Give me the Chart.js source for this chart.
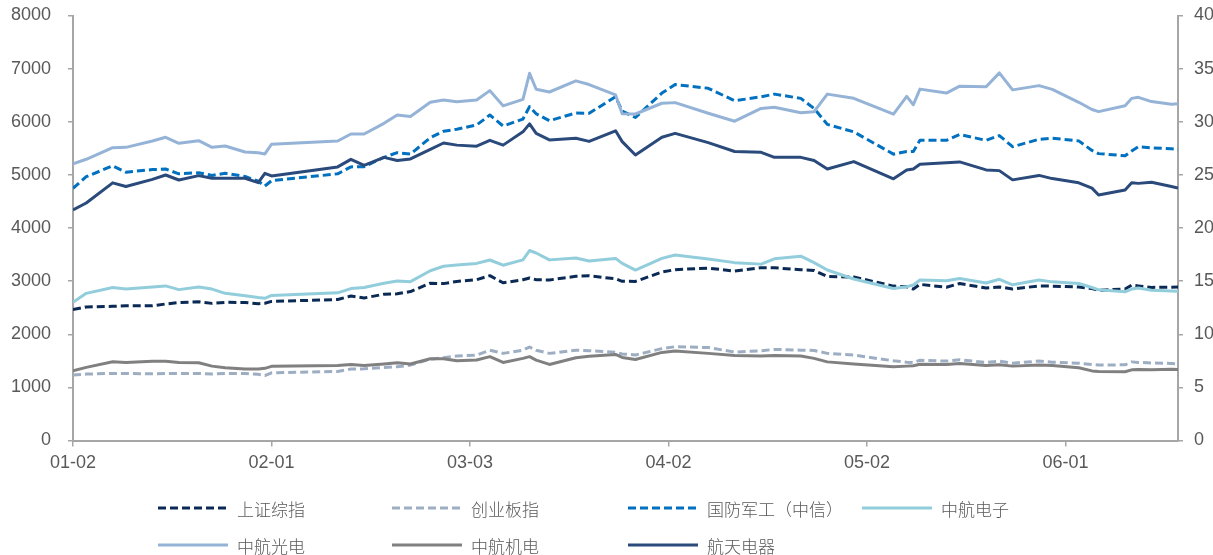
<!DOCTYPE html>
<html>
<head>
<meta charset="utf-8">
<script src="https://cdn.jsdelivr.net/npm/chart.js@4.4.1/dist/chart.umd.min.js"></script>
<style>
  html, body { margin: 0; padding: 0; background: #ffffff; }
  #wrap { position: relative; width: 1213px; height: 555px; overflow: hidden; }
  #c { position: absolute; left: 0; top: 0; }
  .lg { position: absolute; display: flex; align-items: center; font-family: "Noto Sans CJK SC", "Noto Sans", sans-serif; font-size: 17px; font-weight: 300; color: #595959; white-space: nowrap; }
  .lg svg { margin-right: 9px; }
</style>
</head>
<body>
<div id="wrap">
  <canvas id="c" width="1213" height="555"></canvas>
  <div id="legend"></div>
</div>
<script>
// ---- data (2019 trading days, MM-DD) ----
const dates = ['01-02','01-04','01-08','01-10','01-14','01-16','01-18','01-21','01-23','01-25','01-28','01-30','01-31',
'02-01','02-11','02-13','02-15','02-18','02-20','02-22','02-25','02-27',
'03-01','03-04','03-06','03-08','03-11','03-12','03-13','03-15','03-19','03-21','03-25','03-26','03-28',
'04-01','04-03','04-08','04-12','04-16','04-18','04-22','04-24','04-26','04-30',
'05-06','05-08','05-09','05-10','05-14','05-16','05-20','05-22','05-24','05-28','05-30',
'06-03','06-05','06-06','06-10','06-11','06-12','06-14','06-17','06-18'];

const xTickLabels = ['01-02','02-01','03-03','04-02','05-02','06-01'];

// left axis (index points)
const shIndex = [2465,2514,2526,2535,2535,2570,2596,2610,2581,2601,2597,2575,2584,
2618,2653,2721,2682,2754,2761,2804,2961,2953,
2994,3027,3103,2969,3026,3060,3027,3022,3090,3101,3043,2997,2995,
3170,3216,3245,3189,3254,3251,3215,3201,3086,3078,
2906,2893,2850,2939,2884,2955,2871,2891,2852,2909,2905,
2890,2861,2827,2852,2925,2909,2882,2887,2890];

const cyIndex = [1231,1250,1263,1263,1255,1263,1263,1263,1250,1263,1260,1245,1222,
1275,1300,1344,1350,1375,1388,1420,1530,1558,
1589,1608,1700,1640,1700,1760,1700,1640,1700,1690,1660,1630,1610,
1730,1765,1750,1665,1690,1715,1700,1695,1640,1608,
1500,1475,1470,1510,1495,1520,1470,1495,1455,1495,1475,
1455,1430,1420,1425,1480,1470,1460,1450,1440];

const gfIndex = [4746,4966,5170,5050,5100,5110,5020,5040,4990,5030,4970,4880,4790,
4890,5020,5150,5155,5330,5418,5390,5700,5820,
5860,5939,6127,5920,6050,6284,6150,6020,6165,6160,6470,6200,6080,
6540,6700,6630,6395,6470,6520,6440,6250,5950,5810,
5390,5440,5440,5650,5650,5760,5650,5740,5530,5670,5690,
5640,5460,5400,5360,5450,5530,5510,5490,5480];

// right axis (stock prices, yuan)
const dzPrice = [13.00,13.85,14.40,14.25,14.45,14.55,14.20,14.45,14.25,13.85,13.63,13.45,13.38,
13.65,13.90,14.30,14.40,14.80,15.01,14.95,15.98,16.40,
16.52,16.67,16.99,16.50,17.00,17.88,17.65,17.00,17.17,16.89,17.14,16.67,16.04,
17.14,17.46,17.08,16.74,16.60,17.10,17.35,16.74,16.05,15.20,
14.30,14.48,14.63,15.10,15.04,15.25,14.83,15.17,14.65,15.10,14.93,
14.78,14.40,14.18,14.00,14.25,14.35,14.15,14.08,14.05];

const gdPrice = [26.03,26.47,27.56,27.59,28.19,28.54,27.97,28.22,27.59,27.72,27.15,27.09,26.97,
27.88,28.19,28.85,28.85,29.85,30.64,30.50,31.83,32.05,
31.89,32.05,32.93,31.50,32.10,34.56,33.06,32.80,33.85,33.50,32.52,30.75,30.73,
31.74,31.80,30.80,30.05,31.25,31.36,30.85,30.95,32.60,32.21,
30.72,32.39,31.60,33.07,32.70,33.35,33.30,34.60,33.00,33.40,33.05,
31.83,31.15,30.95,31.50,32.20,32.30,31.90,31.65,31.70];

const jdPrice = [6.57,6.88,7.41,7.35,7.45,7.45,7.35,7.32,7.00,6.85,6.72,6.72,6.79,
6.98,7.05,7.16,7.05,7.20,7.32,7.20,7.70,7.70,
7.50,7.57,7.89,7.35,7.73,7.89,7.57,7.16,7.79,7.92,8.10,7.82,7.63,
8.29,8.42,8.20,8.00,7.95,8.00,7.95,7.73,7.40,7.20,
6.95,7.00,7.03,7.18,7.15,7.25,7.05,7.13,7.00,7.10,7.05,
6.85,6.55,6.50,6.47,6.65,6.68,6.65,6.70,6.69];

const htPrice = [21.69,22.35,24.25,23.90,24.58,24.99,24.52,24.93,24.68,24.68,24.68,24.27,25.15,
24.90,25.75,26.46,25.90,26.65,26.35,26.50,27.40,28.00,
27.80,27.70,28.25,27.80,29.05,29.80,28.90,28.29,28.45,28.15,29.15,28.13,26.87,
28.54,28.91,28.03,27.20,27.12,26.65,26.65,26.35,25.55,26.25,
24.63,25.45,25.55,26.00,26.15,26.22,25.47,25.40,24.53,24.95,24.65,
24.25,23.75,23.10,23.58,24.25,24.20,24.30,23.90,23.75];

const seriesNames = ['上证综指','创业板指','国防军工（中信）','中航电子','中航光电','中航机电','航天电器'];

// ---- helpers ----
const dayOf = s => { const p = s.split('-').map(Number); return (Date.UTC(2019, p[0]-1, p[1]) - Date.UTC(2019, 0, 2)) / 86400000; };
const xs = dates.map(dayOf);
const pts = vals => vals.map((v, i) => ({ x: xs[i], y: v }));

const styles = [
  { data: shIndex, axis: 'y',  color: '#0A2A55', dash: [8, 4] },
  { data: cyIndex, axis: 'y',  color: '#9DAEC2', dash: [8, 4] },
  { data: gfIndex, axis: 'y',  color: '#0070C0', dash: [8, 4] },
  { data: dzPrice, axis: 'y1', color: '#92CDDC', dash: [] },
  { data: gdPrice, axis: 'y1', color: '#95B3D7', dash: [] },
  { data: jdPrice, axis: 'y1', color: '#808080', dash: [] },
  { data: htPrice, axis: 'y1', color: '#2A4A7B', dash: [] }
];

const datasets = styles.map((s, i) => ({
  label: seriesNames[i],
  data: pts(s.data),
  yAxisID: s.axis,
  borderColor: s.color,
  backgroundColor: s.color,
  borderWidth: 3,
  borderDash: s.dash,
  borderJoinStyle: 'round',
  pointRadius: 0,
  tension: 0,
  fill: false,
  order: styles.length - i
}));

const axisColor = '#A6A6A6';
const tickFont = { family: '"Liberation Sans", Arial, sans-serif', size: 18 };
const tickColor = '#595959';
const fitVertical = w => sc => { sc.width = w; sc.paddingTop = 0; sc.paddingBottom = 0; };

new Chart(document.getElementById('c'), {
  type: 'line',
  data: { datasets },
  options: {
    responsive: false,
    animation: false,
    devicePixelRatio: 1,
    layout: { padding: { top: 15.5, left: 0, right: 0, bottom: 0 } },
    plugins: { legend: { display: false }, tooltip: { enabled: false } },
    scales: {
      x: {
        type: 'linear',
        min: 0,
        max: dayOf(dates[dates.length - 1]),
        afterBuildTicks: sc => { sc.ticks = xTickLabels.map(l => ({ value: dayOf(l) })); },
        afterFit: sc => { sc.height = 114.5; sc.paddingLeft = 0; sc.paddingRight = 0; },
        ticks: {
          callback: (v, i) => xTickLabels[i],
          font: tickFont, color: tickColor, maxRotation: 0, autoSkip: false, padding: 6
        },
        grid: { display: true, drawOnChartArea: false, drawTicks: true, tickLength: 6, color: axisColor, lineWidth: 1.5 },
        border: { display: true, color: axisColor, width: 2 }
      },
      y: {
        position: 'left',
        min: 0, max: 8000,
        afterFit: fitVertical(73),
        ticks: { stepSize: 1000, font: tickFont, color: tickColor, padding: 17, callback: v => String(v) },
        grid: { display: true, drawOnChartArea: false, drawTicks: true, tickLength: 5, color: axisColor, lineWidth: 1.5 },
        border: { display: true, color: axisColor, width: 2 }
      },
      y1: {
        position: 'right',
        min: 0, max: 40,
        afterFit: fitVertical(35),
        ticks: { stepSize: 5, font: tickFont, color: tickColor, padding: 11, callback: v => String(v) },
        grid: { display: true, drawOnChartArea: false, drawTicks: true, tickLength: 5, color: axisColor, lineWidth: 1.5 },
        border: { display: true, color: axisColor, width: 2 }
      }
    }
  }
});

// ---- legend (HTML, real text) ----
const legend = document.getElementById('legend');
const colX = [158, 392, 628, 862];
const rowY = [508, 545];
styles.forEach((s, i) => {
  const col = i % 4, row = Math.floor(i / 4);
  const el = document.createElement('div');
  el.className = 'lg';
  el.style.left = colX[col] + 'px';
  el.style.top = (rowY[row] - 12) + 'px';
  el.style.height = '24px';
  const dash = s.dash.length ? `stroke-dasharray="${s.dash.join(' ')}"` : '';
  el.innerHTML = `<svg width="70" height="6"><line x1="0" y1="3" x2="70" y2="3" stroke="${s.color}" stroke-width="3" ${dash}/></svg><span>${seriesNames[i]}</span>`;
  legend.appendChild(el);
});
</script>
</body>
</html>
